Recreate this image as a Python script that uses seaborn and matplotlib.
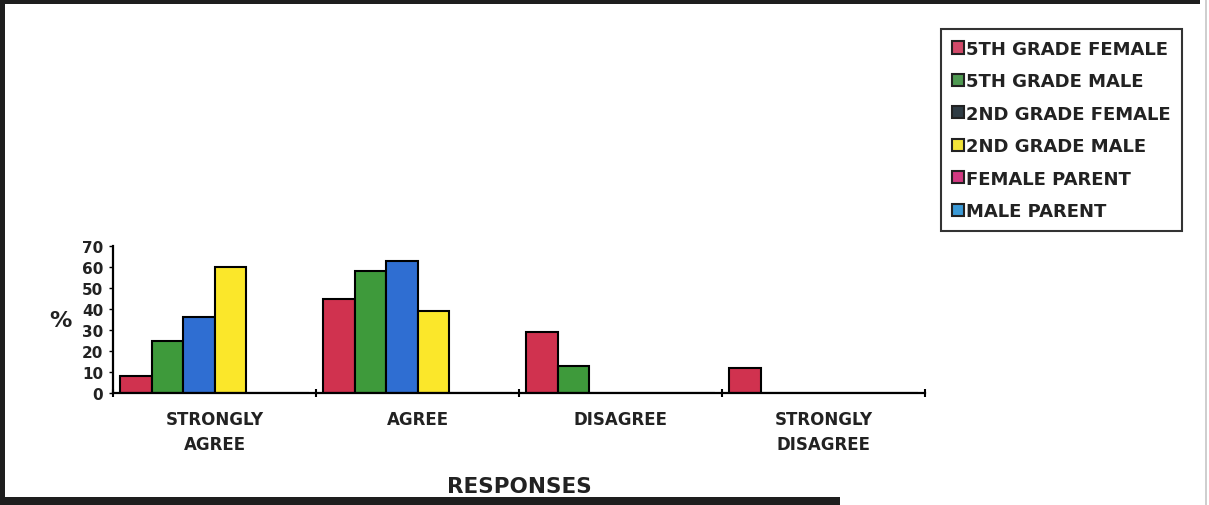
import matplotlib
matplotlib.use("Agg")
import matplotlib.pyplot as plt
from matplotlib.patches import Patch, Rectangle
import seaborn as sns
import pandas as pd

responses = ["STRONGLY\nAGREE", "AGREE", "DISAGREE", "STRONGLY\nDISAGREE"]
series = ["5TH GRADE FEMALE", "5TH GRADE MALE", "2ND GRADE FEMALE",
          "2ND GRADE MALE", "FEMALE PARENT", "MALE PARENT"]
grade5_female = [8, 45, 29, 12]
grade5_male = [25, 58, 13, 0]
grade2_female = [36, 63, 0, 0]
grade2_male = [60, 39, 0, 0]
female_parent = [0, 0, 0, 0]
male_parent = [0, 0, 0, 0]
yticks = [0, 10, 20, 30, 40, 50, 60, 70]

values = [grade5_female, grade5_male, grade2_female, grade2_male,
          female_parent, male_parent]
rows = []
for s, vals in zip(series, values):
    for r, v in zip(responses, vals):
        rows.append({"response": r, "group": s, "pct": v})
df = pd.DataFrame(rows)

bar_colors = ["#d0324f", "#3e9a3b", "#2f6ed2", "#fbe72a", "#d23a82", "#3b9ad6"]
legend_colors = ["#d24a6a", "#4f9a52", "#2f3c44", "#f2e43a", "#d23a82", "#3b9ad6"]

sns.set_style("white")
plt.rcParams["font.family"] = ["DejaVu Sans"]
plt.rcParams["font.weight"] = "bold"

fig = plt.figure(figsize=(12.09, 5.06), dpi=100)
ax = fig.add_axes([113 / 1209, 1 - 394 / 506, 812 / 1209, 147 / 506])

sns.barplot(data=df, x="response", y="pct", hue="group", order=responses,
            hue_order=series, palette=bar_colors, saturation=1, width=0.93,
            edgecolor="black", linewidth=1.5, ax=ax, legend=False)

ax.set_xlim(-0.5, len(responses) - 0.5)
ax.set_ylim(0, 70)
ax.set_yticks(yticks)
ax.set_yticklabels([str(t) for t in yticks], fontsize=11, fontweight="bold",
                   color="#222222")
ax.set_xticks(range(len(responses)))
ax.set_xticklabels(responses, fontsize=12, fontweight="bold",
                   color="#222222", linespacing=1.55)
ax.set_xticks([i + 0.5 for i in range(-1, len(responses))], minor=True)
ax.tick_params(axis="x", which="major", length=0, pad=12, bottom=True)
ax.tick_params(axis="x", which="minor", length=6, width=1.5, direction="inout",
               color="black", bottom=True)
ax.tick_params(axis="y", which="major", length=3, width=1, direction="out",
               color="black", pad=4, left=True)

for side in ["top", "right"]:
    ax.spines[side].set_visible(False)
for side in ["left", "bottom"]:
    ax.spines[side].set_color("black")
    ax.spines[side].set_linewidth(1.6)

ax.set_ylabel("")
ax.set_xlabel("RESPONSES", fontsize=15.5, fontweight="bold", color="#222222",
              labelpad=16)
fig.text(60 / 1209, 1 - 321 / 506, "%", fontsize=16, fontweight="bold",
         color="#222222", ha="center", va="center")

handles = [Patch(facecolor=c, edgecolor="#222222", linewidth=1.5)
           for c in legend_colors]
leg = fig.legend(handles, series, loc="upper left",
                 bbox_to_anchor=(941 / 1209, 1 - 30 / 506),
                 frameon=True, fancybox=False,
                 prop={"weight": "bold", "size": 13},
                 handlelength=0.65, handleheight=0.65, handletextpad=0.15,
                 labelspacing=0.8, borderpad=0.6, borderaxespad=0)
leg.get_frame().set_edgecolor("black")
leg.get_frame().set_linewidth(1.5)
for t in leg.get_texts():
    t.set_color("#222222")

# scanned page edges
fig.patches.append(Rectangle((0, 1 - 5 / 506), 1200 / 1209, 5 / 506,
                             transform=fig.transFigure,
                             facecolor="#1e1e1e", edgecolor="none"))
fig.patches.append(Rectangle((0, 0), 5 / 1209, 1, transform=fig.transFigure,
                             facecolor="#1e1e1e", edgecolor="none"))
fig.patches.append(Rectangle((0, 0), 840 / 1209, 8 / 506, transform=fig.transFigure,
                             facecolor="#1e1e1e", edgecolor="none"))
fig.patches.append(Rectangle((1205 / 1209, 0), 2 / 1209, 1, transform=fig.transFigure,
                             facecolor="#cfcfcf", edgecolor="none"))

fig.savefig("out.png", dpi=100, facecolor="white")
